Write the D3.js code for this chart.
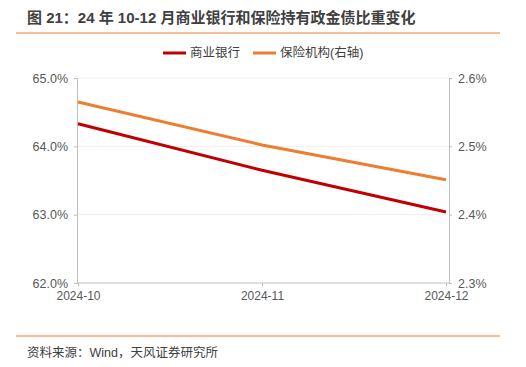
<!DOCTYPE html>
<html>
<head>
<meta charset="utf-8">
<script src="https://cdn.jsdelivr.net/npm/d3@7"></script>
<style>
  body { margin: 0; background: #fff; }
  text { font-family: "Liberation Sans", "Noto Sans CJK SC", sans-serif; }
</style>
</head>
<body>
<div id="chart"></div>
<script>
// data
const months = ["2024-10", "2024-11", "2024-12"];
const bankShare = [64.33, 63.65, 63.04];      // 商业银行 (left axis, %)
const insureShare = [2.565, 2.502, 2.451];    // 保险机构 (right axis, %)
const leftTicks = [62, 63, 64, 65];
const rightTicks = [2.3, 2.4, 2.5, 2.6];

const svgWidth = 526, svgHeight = 367;
const plot = { left: 77, right: 449, top: 78, bottom: 283 };

const svg = d3.select("#chart").append("svg")
  .attr("width", svgWidth)
  .attr("height", svgHeight);

// title + rules
svg.append("text")
  .attr("x", 27).attr("y", 23)
  .style("font-size", "15px").style("font-weight", "bold")
  .attr("fill", "#404040")
  .text("图 21：24 年 10-12 月商业银行和保险持有政金债比重变化");

svg.append("line")
  .attr("x1", 16).attr("x2", 500).attr("y1", 33).attr("y2", 33)
  .attr("stroke", "#ED7D31").attr("stroke-width", 1);

svg.append("line")
  .attr("x1", 16).attr("x2", 500).attr("y1", 336).attr("y2", 336)
  .attr("stroke", "#ED7D31").attr("stroke-width", 1);

svg.append("text")
  .attr("x", 27).attr("y", 357)
  .style("font-size", "12.5px")
  .attr("fill", "#404040")
  .text("资料来源：Wind，天风证券研究所");

// scales
const xScale = d3.scalePoint()
  .domain(months)
  .range([plot.left + 1, plot.right - 3]);

const yLeft = d3.scaleLinear().domain([62, 65]).range([plot.bottom, plot.top]);
const yRight = d3.scaleLinear().domain([2.3, 2.6]).range([plot.bottom, plot.top]);

// gridlines
svg.append("g")
  .selectAll("line")
  .data(leftTicks.slice(1))
  .enter().append("line")
  .attr("x1", plot.left).attr("x2", plot.right)
  .attr("y1", d => yLeft(d)).attr("y2", d => yLeft(d))
  .attr("stroke", "#eeeeee");

// axes
const leftAxis = d3.axisLeft(yLeft).tickValues(leftTicks).tickSize(3)
  .tickFormat(d => d.toFixed(1) + "%");
const rightAxis = d3.axisRight(yRight).tickValues(rightTicks).tickSize(3)
  .tickFormat(d => d.toFixed(1) + "%");
const bottomAxis = d3.axisBottom(xScale).tickSize(3).tickPadding(5);

function styleAxis(g) {
  g.select(".domain").attr("stroke", "#bfbfbf");
  g.selectAll(".tick line").attr("stroke", "#bfbfbf");
  g.selectAll("text").attr("fill", "#595959").style("font-size", "12.5px");
}

svg.append("g")
  .attr("transform", `translate(${plot.left},0)`)
  .call(leftAxis)
  .call(styleAxis)
  .selectAll("text").attr("x", -9);

svg.append("g")
  .attr("transform", `translate(${plot.right},0)`)
  .call(rightAxis)
  .call(styleAxis)
  .selectAll("text").attr("x", 9);

const xg = svg.append("g")
  .attr("transform", `translate(0,${plot.bottom})`)
  .call(bottomAxis)
  .call(styleAxis);
xg.select(".domain").attr("d", `M${plot.left},0H${plot.right}`);
xg.selectAll("text").style("font-size", "12px");

// lines
const bankLine = d3.line()
  .x((d, i) => xScale(months[i]))
  .y(d => yLeft(d));
const insLine = d3.line()
  .x((d, i) => xScale(months[i]))
  .y(d => yRight(d));

svg.append("path")
  .datum(insureShare)
  .attr("d", insLine)
  .attr("fill", "none")
  .attr("stroke", "#ED7D31")
  .attr("stroke-width", 3);

svg.append("path")
  .datum(bankShare)
  .attr("d", bankLine)
  .attr("fill", "none")
  .attr("stroke", "#C00000")
  .attr("stroke-width", 3);

// legend
const legendItems = [
  { name: "商业银行", color: "#C00000", x: 163 },
  { name: "保险机构(右轴)", color: "#ED7D31", x: 253 }
];
const legend = svg.append("g").selectAll("g")
  .data(legendItems)
  .enter().append("g")
  .attr("transform", d => `translate(${d.x},53)`);
legend.append("line")
  .attr("x1", 0).attr("x2", 23)
  .attr("stroke", d => d.color).attr("stroke-width", 3);
legend.append("text")
  .attr("x", 27).attr("y", 4)
  .style("font-size", "12.5px")
  .attr("fill", "#404040")
  .text(d => d.name);
</script>
</body>
</html>
